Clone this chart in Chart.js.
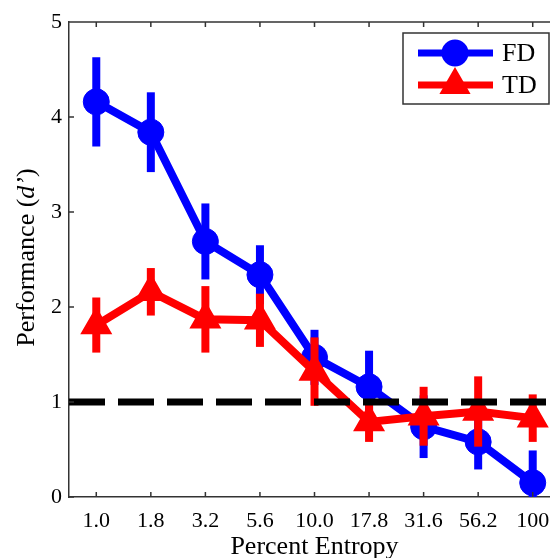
<!DOCTYPE html>
<html lang="en">
  <head>
    <meta charset="UTF-8" />
    <title>Performance vs Percent Entropy</title>
    <script src="https://cdn.jsdelivr.net/npm/chart.js"></script>
    <style>
      html, body { margin: 0; padding: 0; overflow: hidden; background: #fff; }
    </style>
  </head>
  <body>
    <canvas id="entropyChart" width="560" height="566"></canvas>

    <script>
      // values
      const entropyLabels = ["1.0", "1.8", "3.2", "5.6", "10.0", "17.8", "31.6", "56.2", "100"];
      const fdMeans = [4.16, 3.84, 2.69, 2.34, 1.47, 1.16, 0.74, 0.58, 0.15];
      const fdErrors = [0.47, 0.42, 0.40, 0.31, 0.29, 0.38, 0.33, 0.29, 0.34];
      const tdMeans = [1.81, 2.16, 1.87, 1.86, 1.32, 0.79, 0.85, 0.90, 0.83];
      const tdErrors = [0.29, 0.25, 0.35, 0.28, 0.36, 0.21, 0.31, 0.37, 0.25];
      const yTicks = [0, 1, 2, 3, 4, 5];
      const chanceLevel = 1;

      const serif = "'Liberation Serif', 'Times New Roman', serif";
      const axisColor = "#333";

      // vertical error bars, drawn just before each series so the line sits on top
      const errorBars = {
        id: "errorBars",
        beforeDatasetDraw(chart, args) {
          const ds = chart.data.datasets[args.index];
          if (!ds.errors) return;
          const { ctx, chartArea: a } = chart;
          const y = chart.scales.y;
          ctx.save();
          ctx.beginPath();
          ctx.rect(a.left, a.top, a.right - a.left, a.bottom - a.top);
          ctx.clip();
          ctx.strokeStyle = ds.borderColor;
          ctx.lineWidth = 8;
          args.meta.data.forEach((pt, i) => {
            ctx.beginPath();
            ctx.moveTo(pt.x, y.getPixelForValue(ds.data[i] + ds.errors[i]));
            ctx.lineTo(pt.x, y.getPixelForValue(ds.data[i] - ds.errors[i]));
            ctx.stroke();
          });
          ctx.restore();
        },
      };

      // matlab style box: top edge, inward ticks, dashed chance line
      const frame = {
        id: "frame",
        afterDatasetsDraw(chart) {
          const { ctx, chartArea: a, scales } = chart;
          ctx.save();

          const yc = scales.y.getPixelForValue(chanceLevel);
          ctx.strokeStyle = "#000";
          ctx.lineWidth = 7;
          ctx.setLineDash([36, 13]);
          ctx.beginPath();
          ctx.moveTo(a.left, yc);
          ctx.lineTo(a.right, yc);
          ctx.stroke();
          ctx.setLineDash([]);

          ctx.strokeStyle = axisColor;
          ctx.lineWidth = 1.5;
          ctx.beginPath();
          ctx.moveTo(a.left, a.top);
          ctx.lineTo(a.right, a.top);
          yTicks.forEach((v) => {
            const py = scales.y.getPixelForValue(v);
            ctx.moveTo(a.left, py);
            ctx.lineTo(a.left + 5, py);
          });
          entropyLabels.forEach((lab, i) => {
            const px = scales.x.getPixelForValue(i);
            ctx.moveTo(px, a.bottom);
            ctx.lineTo(px, a.bottom - 5);
            ctx.moveTo(px, a.top);
            ctx.lineTo(px, a.top + 5);
          });
          ctx.stroke();
          ctx.restore();
        },
        afterDraw(chart) {
          const { ctx, chartArea: a } = chart;
          ctx.save();

          // y title with italic d'
          const parts = [
            ["Performance (", "26px " + serif],
            ["d\u2019", "italic 26px " + serif],
            [")", "26px " + serif],
          ];
          let total = 0;
          parts.forEach((p) => { ctx.font = p[1]; total += ctx.measureText(p[0]).width; });
          ctx.translate(27, (a.top + a.bottom) / 2 - 2);
          ctx.rotate(-Math.PI / 2);
          ctx.fillStyle = "#000";
          ctx.textBaseline = "middle";
          let x = -total / 2;
          parts.forEach((p) => {
            ctx.font = p[1];
            ctx.fillText(p[0], x, 0);
            x += ctx.measureText(p[0]).width;
          });
          ctx.setTransform(1, 0, 0, 1, 0, 0);

          // legend
          const bx = 403, by = a.top + 11, bw = 146, bh = 71;
          ctx.fillStyle = "#fff";
          ctx.fillRect(bx, by, bw, bh);
          ctx.strokeStyle = axisColor;
          ctx.lineWidth = 1.5;
          ctx.strokeRect(bx, by, bw, bh);
          chart.data.datasets.forEach((ds, i) => {
            const ry = by + 20 + i * 32;
            ctx.strokeStyle = ds.borderColor;
            ctx.fillStyle = ds.borderColor;
            ctx.lineWidth = 7;
            ctx.beginPath();
            ctx.moveTo(bx + 15, ry);
            ctx.lineTo(bx + 90, ry);
            ctx.stroke();
            Chart.helpers.drawPoint(ctx, {
              pointStyle: ds.pointStyle,
              radius: ds.pointStyle === "triangle" ? 11 : 10,
              borderWidth: 1,
            }, bx + 52, ry);
            ctx.fill();
            ctx.fillStyle = "#000";
            ctx.font = "26px " + serif;
            ctx.textBaseline = "middle";
            ctx.fillText(ds.label, bx + 99, ry + 1);
          });
          ctx.restore();
        },
      };

      const ctx = document.getElementById("entropyChart").getContext("2d");
      new Chart(ctx, {
        type: "line",
        data: {
          labels: entropyLabels,
          datasets: [
            {
              label: "FD",
              data: fdMeans,
              errors: fdErrors,
              borderColor: "#0000ff",
              backgroundColor: "#0000ff",
              borderWidth: 8,
              pointStyle: "circle",
              pointRadius: 13,
              pointBorderWidth: 1,
              order: 1,
              clip: 0,
            },
            {
              label: "TD",
              data: tdMeans,
              errors: tdErrors,
              borderColor: "#ff0000",
              backgroundColor: "#ff0000",
              borderWidth: 8,
              pointStyle: "triangle",
              pointRadius: 16.5,
              pointBorderWidth: 2,
              order: 0,
              clip: 0,
            },
          ],
        },
        options: {
          responsive: false,
          animation: false,
          layout: { autoPadding: false, padding: { top: 22, right: 0, bottom: 0, left: 0 } },
          plugins: { legend: { display: false }, tooltip: { enabled: false } },
          scales: {
            x: {
              offset: true,
              grid: { display: false, drawTicks: false },
              border: { display: true, color: axisColor, width: 1.5 },
              ticks: { color: "#000", font: { family: serif, size: 22 }, padding: 11, maxRotation: 0 },
              title: {
                display: true,
                text: "Percent Entropy",
                color: "#000",
                font: { family: serif, size: 26 },
                padding: { top: 0, bottom: 3 },
              },
              afterFit(scale) {
                scale.height = 69;
                scale.paddingLeft = 0;
                scale.paddingRight = 0;
              },
            },
            y: {
              min: 0,
              max: 5,
              grid: { display: false, drawTicks: false },
              border: { display: true, color: axisColor, width: 1.5 },
              ticks: { stepSize: 1, color: "#000", font: { family: serif, size: 22 }, padding: 7 },
              afterFit(scale) {
                scale.width = 69;
                scale.paddingTop = 0;
                scale.paddingBottom = 0;
              },
            },
          },
        },
        plugins: [errorBars, frame],
      });
    </script>
  </body>
</html>
